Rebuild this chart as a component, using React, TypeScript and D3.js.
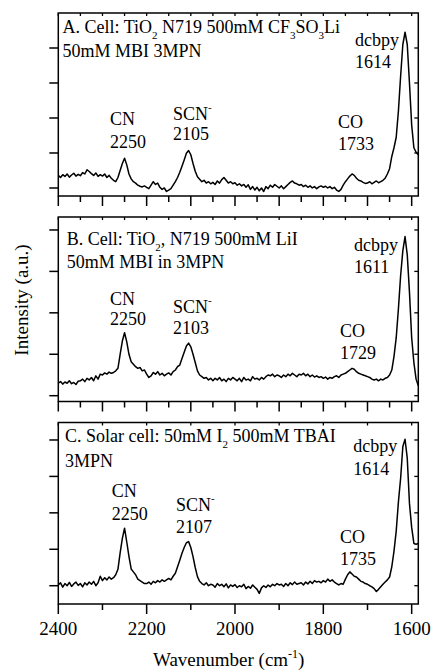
import React from "react";
import * as d3 from "d3";

// ---------- data ----------
// sampling grid of the spectra (cm^-1), high to low
const wavenumbers: number[] = d3.range(2400, 1584, -5);

// Panel A: Cell TiO2 N719 500mM CF3SO3Li, 50mM MBI 3MPN
const intensityA: number[] = [
  0.36, 0.30, 0.38, 0.33, 0.40, 0.31, 0.37, 0.42, 0.34, 0.39,
  0.35, 0.44, 0.40, 0.52, 0.47, 0.41, 0.36, 0.43, 0.33, 0.38,
  0.34, 0.40, 0.30, 0.36, 0.28, 0.22, 0.18, 0.30, 0.50, 0.70,
  0.85, 0.66, 0.40, 0.26, 0.18, 0.14, 0.08, 0.05, 0.03, 0.06,
  0.02, -0.02, 0.08, 0.18, 0.10, 0.14, 0.02, -0.04, 0.00, -0.10,
  -0.06, -0.02, 0.08, 0.18, 0.30, 0.45, 0.62, 0.80, 0.99, 1.07,
  0.95, 0.70, 0.48, 0.32, 0.25, 0.18, 0.22, 0.14, 0.18, 0.12,
  0.16, 0.10, 0.20, 0.14, 0.24, 0.30, 0.22, 0.14, 0.18, 0.12,
  0.15, 0.08, 0.12, 0.06, 0.10, 0.02, 0.09, -0.04, 0.04, -0.06,
  0.02, -0.08, 0.00, -0.10, 0.04, -0.02, 0.08, 0.02, 0.10, 0.05,
  0.00, 0.06, -0.02, 0.04, 0.10, 0.16, 0.20, 0.14, 0.12, 0.08,
  0.10, 0.04, 0.08, 0.02, 0.06, 0.00, 0.04, -0.02, 0.03, 0.06,
  0.02, 0.05, 0.00, 0.04, -0.02, 0.02, -0.06, -0.10, -0.04, 0.08,
  0.18, 0.26, 0.34, 0.40, 0.36, 0.28, 0.22, 0.20, 0.16, 0.13,
  0.14, 0.18, 0.12, 0.16, 0.20, 0.15, 0.18, 0.22, 0.28, 0.40,
  0.55, 0.90, 1.15, 1.45, 2.20, 3.20, 4.10, 4.45, 4.10, 3.00,
  1.80, 1.15, 1.02, 0.95,
];

// Panel B: Cell TiO2, N719 500mM LiI, 50mM MBI in 3MPN
const intensityB: number[] = [
  0.30, 0.34, 0.28, 0.33, 0.30, 0.36, 0.29, 0.32, 0.27, 0.35,
  0.36, 0.40, 0.34, 0.42, 0.38, 0.44, 0.36, 0.48, 0.40, 0.52,
  0.50, 0.55, 0.52, 0.57, 0.54, 0.56, 0.60, 0.66, 1.00, 1.32,
  1.52, 1.30, 1.00, 0.82, 0.76, 0.70, 0.66, 0.68, 0.60, 0.62,
  0.52, 0.44, 0.48, 0.56, 0.52, 0.58, 0.50, 0.54, 0.48, 0.52,
  0.55, 0.50, 0.58, 0.62, 0.70, 0.74, 0.90, 1.05, 1.20, 1.27,
  1.18, 1.00, 0.80, 0.60, 0.50, 0.46, 0.42, 0.44, 0.38, 0.42,
  0.36, 0.42, 0.38, 0.44, 0.36, 0.40, 0.34, 0.42, 0.38, 0.44,
  0.40, 0.36, 0.42, 0.34, 0.44, 0.38, 0.40, 0.36, 0.46, 0.40,
  0.42, 0.38, 0.44, 0.40, 0.46, 0.50, 0.48, 0.52, 0.46, 0.50,
  0.48, 0.44, 0.50, 0.46, 0.52, 0.48, 0.54, 0.50, 0.46, 0.52,
  0.50, 0.54, 0.48, 0.52, 0.46, 0.50, 0.45, 0.48, 0.44, 0.46,
  0.42, 0.45, 0.40, 0.44, 0.42, 0.46, 0.48, 0.44, 0.50, 0.52,
  0.54, 0.58, 0.62, 0.66, 0.64, 0.58, 0.54, 0.52, 0.50, 0.48,
  0.46, 0.44, 0.40, 0.38, 0.40, 0.36, 0.40, 0.38, 0.42, 0.44,
  0.50, 0.62, 0.95, 1.40, 2.10, 2.90, 3.50, 3.84, 3.40, 2.50,
  1.40, 0.80, 0.40, 0.24,
];

// Panel C: Solar cell 50mM I2 500mM TBAI 3MPN
const intensityC: number[] = [
  0.02, 0.08, -0.04, 0.06, 0.00, 0.09, -0.02, 0.05, 0.10, 0.01,
  0.06, -0.03, 0.08, 0.02, 0.10, 0.04, 0.12, 0.00, 0.08, 0.26,
  0.14, 0.22, 0.16, 0.24, 0.18, 0.22, 0.30, 0.45, 0.90, 1.30,
  1.58, 1.20, 0.80, 0.46, 0.38, 0.30, 0.18, 0.14, 0.10, 0.06,
  0.06, 0.10, 0.04, 0.12, 0.08, 0.14, 0.10, 0.16, 0.12, 0.16,
  0.20, 0.16, 0.26, 0.34, 0.52, 0.70, 0.89, 1.05, 1.18, 1.21,
  1.05, 0.80, 0.50, 0.25, 0.12, 0.06, 0.02, 0.08, 0.00, 0.04,
  0.02, -0.04, 0.06, 0.00, 0.04, -0.03, 0.05, -0.06, 0.02, -0.02,
  0.03, -0.05, 0.00, -0.03, 0.04, -0.08, -0.02, -0.07, 0.02, -0.04,
  -0.10, -0.21, -0.06, 0.00, -0.05, 0.02, -0.03, 0.04, 0.00, 0.06,
  0.02, 0.04, -0.02, 0.06, 0.00, 0.08, 0.03, 0.10, 0.04, 0.06,
  0.08, 0.02, 0.10, 0.05, 0.12, 0.06, 0.14, 0.10, 0.12, 0.08,
  0.14, 0.10, 0.18, 0.12, 0.16, 0.10, 0.06, 0.02, 0.06, 0.04,
  0.18, 0.30, 0.38, 0.32, 0.26, 0.24, 0.18, 0.12, 0.10, 0.06,
  0.04, 0.00, -0.03, -0.08, -0.16, -0.10, -0.03, 0.04, 0.10, 0.16,
  0.24, 0.52, 0.95, 1.50, 2.30, 2.95, 3.82, 4.02, 3.50, 2.26,
  1.60, 1.16, 1.14, 1.16,
];

const xTickLabels: number[] = [2400, 2200, 2000, 1800, 1600];
const yTickValues: number[] = [0, 1, 2, 3, 4];

const titlesA = ["A. Cell: TiO", "2", " N719 500mM CF", "3", "SO", "3", "Li", "50mM MBI 3MPN"];
const titlesB = ["B. Cell: TiO", "2", ", N719 500mM LiI", "50mM MBI in 3MPN"];
const titlesC = ["C. Solar cell: 50mM I", "2", " 500mM TBAI", "3MPN"];
const peakNames = ["CN", "SCN", "CO", "dcbpy"];
const peakValuesA = ["2250", "2105", "1733", "1614"];
const peakValuesB = ["2250", "2103", "1729", "1611"];
const peakValuesC = ["2250", "2107", "1735", "1614"];
const xAxisTitle = "Wavenumber (cm";
const yAxisTitle = "Intensity (a.u.)";

// ---------- layout ----------
const FONT = "'Liberation Serif', 'Times New Roman', Times, serif";
const X0 = 58.3;
const X1 = 418.3;
const xScale = d3.scaleLinear().domain([2400, 1585]).range([X0, X1]);

type PanelSpec = {
  top: number;
  bottom: number;
  domain: [number, number];
  values: number[];
  tickStep: number;
  majorStep: number;
};

const panels: PanelSpec[] = [
  { top: 13, bottom: 196, domain: [-0.229, 5.0], values: intensityA, tickStep: 50, majorStep: 100 },
  { top: 217, bottom: 401.5, domain: [-0.14, 4.313], values: intensityB, tickStep: 50, majorStep: 100 },
  { top: 422.5, bottom: 604, domain: [-0.502, 4.48], values: intensityC, tickStep: 100, majorStep: 200 },
];

function Panel({ p, labels }: { p: PanelSpec; labels: boolean }) {
  const y = d3.scaleLinear().domain(p.domain).range([p.bottom, p.top]);
  const line = d3
    .line<number>()
    .x((_, i) => xScale(wavenumbers[i]))
    .y((v) => y(v))
    .curve(d3.curveLinear);
  const xt = d3.range(2400, 1599, -p.tickStep);
  return (
    <g>
      <path d={line(p.values) || ""} fill="none" stroke="#000" strokeWidth={1.5} strokeLinejoin="round" />
      <rect x={X0} y={p.top} width={X1 - X0} height={p.bottom - p.top} fill="none" stroke="#000" strokeWidth={1.5} />
      {xt.map((t) => {
        const major = t % p.majorStep === 0;
        const xx = xScale(t);
        return (
          <g key={t}>
            <line x1={xx} x2={xx} y1={p.bottom} y2={p.bottom + (major ? 10 : 6)} stroke="#000" strokeWidth={1.5} />
            <line x1={xx} x2={xx} y1={p.top} y2={p.top + 3} stroke="#000" strokeWidth={1.3} />
          </g>
        );
      })}
      {yTickValues.map((t) => (
        <g key={t}>
          <line x1={X0 - 9} x2={X0} y1={y(t)} y2={y(t)} stroke="#000" strokeWidth={1.5} />
          <line x1={X1 - 4} x2={X1} y1={y(t)} y2={y(t)} stroke="#000" strokeWidth={1.3} />
        </g>
      ))}
      {labels &&
        xTickLabels.map((t) => (
          <text key={t} x={xScale(t)} y={635} textAnchor="middle" fontSize={19}>
            {t}
          </text>
        ))}
    </g>
  );
}

function PeakLabels({ pos, values }: { pos: number[][]; values: string[] }) {
  return (
    <g fontSize={18}>
      {pos.map(([x, y1, y2], i) => (
        <g key={i}>
          <text x={x} y={y1}>
            {peakNames[i]}
            {i === 1 && (
              <tspan fontSize={11} dy={-9}>
                -
              </tspan>
            )}
          </text>
          <text x={x} y={y2}>
            {values[i]}
          </text>
        </g>
      ))}
    </g>
  );
}

export default function App() {
  return (
    <svg
      width={433}
      height={670}
      style={{ position: "absolute", left: 0, top: 0, background: "#fff" }}
      fontFamily={FONT}
    >
      <rect x={0} y={0} width={433} height={670} fill="#fff" />
      {panels.map((p, i) => (
        <Panel key={i} p={p} labels={i === 2} />
      ))}

      {/* Panel A texts */}
      <g fontSize={18}>
        <text x={62.5} y={32.5}>
          {titlesA[0]}
          <tspan fontSize={11} dy={6}>{titlesA[1]}</tspan>
          <tspan dy={-6}>{titlesA[2]}</tspan>
          <tspan fontSize={11} dy={6}>{titlesA[3]}</tspan>
          <tspan dy={-6}>{titlesA[4]}</tspan>
          <tspan fontSize={11} dy={6}>{titlesA[5]}</tspan>
          <tspan dy={-6}>{titlesA[6]}</tspan>
        </text>
        <text x={62.5} y={57}>{titlesA[7]}</text>
      </g>
      <PeakLabels
        values={peakValuesA}
        pos={[
          [110, 125, 148],
          [173, 119.5, 140],
          [338, 128, 150],
          [355, 45.5, 68],
        ]}
      />

      {/* Panel B texts */}
      <g fontSize={18}>
        <text x={66.7} y={245}>
          {titlesB[0]}
          <tspan fontSize={11} dy={6}>{titlesB[1]}</tspan>
          <tspan dy={-6}>{titlesB[2]}</tspan>
        </text>
        <text x={66.7} y={268.3}>{titlesB[3]}</text>
      </g>
      <PeakLabels
        values={peakValuesB}
        pos={[
          [110, 305, 325],
          [173, 313.3, 334],
          [340, 336.7, 359],
          [354, 250.5, 273.3],
        ]}
      />

      {/* Panel C texts */}
      <g fontSize={18}>
        <text x={65} y={441.7}>
          {titlesC[0]}
          <tspan fontSize={11} dy={6}>{titlesC[1]}</tspan>
          <tspan dy={-6}>{titlesC[2]}</tspan>
        </text>
        <text x={65} y={466.7}>{titlesC[3]}</text>
      </g>
      <PeakLabels
        values={peakValuesC}
        pos={[
          [111.7, 496.7, 520],
          [176, 510.7, 533.3],
          [340, 543.3, 565],
          [353.3, 452, 475],
        ]}
      />

      {/* axis titles */}
      <text x={153} y={666} fontSize={19}>
        {xAxisTitle}
        <tspan fontSize={12} dy={-8}>-1</tspan>
        <tspan dy={8}>)</tspan>
      </text>
      <text transform="translate(28,300) rotate(-90)" textAnchor="middle" fontSize={19}>
        {yAxisTitle}
      </text>
    </svg>
  );
}
